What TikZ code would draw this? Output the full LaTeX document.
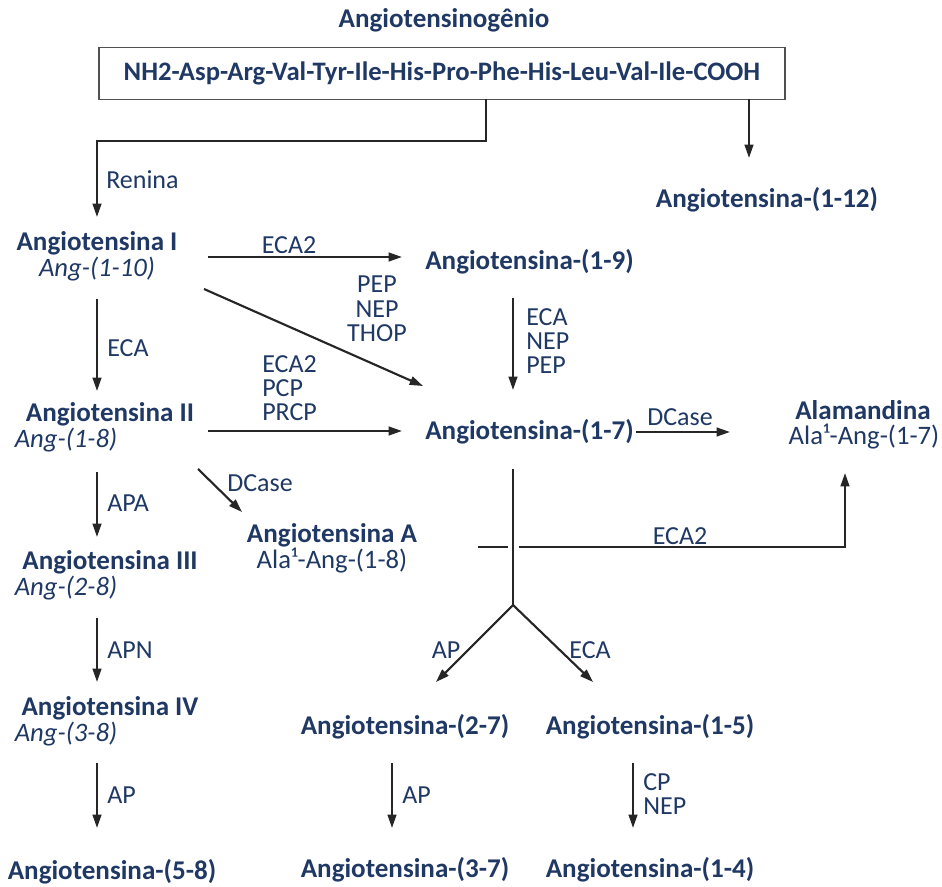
\documentclass[tikz,border=0pt]{standalone}
\usepackage{fontspec}
\setmainfont{Carlito}
\usetikzlibrary{arrows.meta}
\definecolor{navy}{RGB}{31,56,100}
\definecolor{arrowc}{RGB}{38,38,38}
\definecolor{boxc}{RGB}{80,80,80}
\tikzset{
  ntitle/.style={font=\bfseries\fontsize{20.3}{21}\selectfont, text=navy, inner sep=0pt},
  nsub/.style={font=\itshape\fontsize{20}{21}\selectfont, text=navy, inner sep=0pt},
  nplain/.style={font=\fontsize{20}{21}\selectfont, text=navy, inner sep=0pt},
  nlab/.style={font=\fontsize{19.5}{18.2}\selectfont, text=navy, inner sep=0pt},
  ln/.style={draw=arrowc, line width=1.6pt},
  arr/.style={draw=arrowc, line width=1.6pt, -{Triangle[length=10pt,width=6.5pt]}},
}
\begin{document}
\begin{tikzpicture}[x=0.75pt,y=-0.75pt]
\useasboundingbox (0,0) rectangle (942,887);

% title and box
\node[ntitle] (title) at (444,20) {Angiotensinogênio};
\node[draw=boxc, line width=0.8pt, minimum width=686*0.75pt, minimum height=52*0.75pt, inner sep=0pt,
      font=\bfseries\fontsize{20}{21}\selectfont, text=navy] (box) at (442,73.5)
      {NH2-Asp-Arg-Val-Tyr-Ile-His-Pro-Phe-His-Leu-Val-Ile-COOH};

% left column
\node[ntitle] (ang1) at (97,243.5) {Angiotensina I};
\node[nsub] (ang1s) at (97,269.5) {Ang-(1-10)};
\node[ntitle] (ang2) at (110,414) {Angiotensina II};
\node[nsub] (ang2s) at (66,440) {Ang-(1-8)};
\node[ntitle] (ang3) at (110,562) {Angiotensina III};
\node[nsub] (ang3s) at (66,588) {Ang-(2-8)};
\node[ntitle] (ang4) at (110,708) {Angiotensina IV};
\node[nsub] (ang4s) at (66,734) {Ang-(3-8)};
\node[ntitle] (ang58) at (112,872) {Angiotensina-(5-8)};

% middle / right
\node[ntitle] (ang112) at (767,200) {Angiotensina-(1-12)};
\node[ntitle] (ang19) at (529.5,262) {Angiotensina-(1-9)};
\node[ntitle] (ang17) at (529.5,432) {Angiotensina-(1-7)};
\node[ntitle] (alam) at (863,410) {Alamandina};
\node[nplain] (alams) at (864,437) {Ala¹-Ang-(1-7)};
\node[ntitle] (angA) at (332,535) {Angiotensina A};
\node[nplain] (angAs) at (332,561) {Ala¹-Ang-(1-8)};
\node[ntitle] (ang27) at (405,727) {Angiotensina-(2-7)};
\node[ntitle] (ang15) at (650,727) {Angiotensina-(1-5)};
\node[ntitle] (ang37) at (405,870) {Angiotensina-(3-7)};
\node[ntitle] (ang14) at (650,870) {Angiotensina-(1-4)};

% coordinates for connectors
\coordinate (b1) at (486,99);
\coordinate (b1a) at (486,141);
\coordinate (b1b) at (97,141);
\coordinate (b1e) at (97,217);
\coordinate (b2) at (749,99);
\coordinate (b2e) at (749,158);

\coordinate (e1s) at (208,257);
\coordinate (e1e) at (402,257);
\coordinate (d1s) at (204,289);
\coordinate (d1e) at (423,386);
\coordinate (v1s) at (97,299);
\coordinate (v1e) at (97,391);
\coordinate (v2s) at (513,298);
\coordinate (v2e) at (513,390);
\coordinate (h2s) at (208,431);
\coordinate (h2e) at (402,431);
\coordinate (dcs) at (636,432);
\coordinate (dce) at (730,432);
\coordinate (v3s) at (513,469);
\coordinate (br) at (513,605);
\coordinate (br1) at (436,682);
\coordinate (br2) at (593,682);
\coordinate (xa) at (478,547);
\coordinate (xb) at (508,547);
\coordinate (xc) at (519,547);
\coordinate (xd) at (845,547);
\coordinate (xe) at (845,473);
\coordinate (v4s) at (392,763);
\coordinate (v4e) at (392,828);
\coordinate (v5s) at (633,763);
\coordinate (v5e) at (633,828);
\coordinate (dAs) at (198,469);
\coordinate (dAe) at (242,512);
\coordinate (v6s) at (97,472);
\coordinate (v6e) at (97,537);
\coordinate (v7s) at (97,618);
\coordinate (v7e) at (97,682);
\coordinate (v8s) at (97,763);
\coordinate (v8e) at (97,828);

% connectors
\draw[arr] (b1) -- (b1a) -- (b1b) -- (b1e);
\draw[arr] (b2) -- (b2e);
\draw[arr] (e1s) -- (e1e);
\draw[arr] (d1s) -- (d1e);
\draw[arr] (v1s) -- (v1e);
\draw[arr] (v2s) -- (v2e);
\draw[arr] (h2s) -- (h2e);
\draw[arr] (dcs) -- (dce);
\draw[ln] (v3s) -- (br);
\draw[arr] (br) -- (br1);
\draw[arr] (br) -- (br2);
\draw[ln] (xa) -- (xb);
\draw[arr] (xc) -- (xd) -- (xe);
\draw[arr] (v4s) -- (v4e);
\draw[arr] (v5s) -- (v5e);
\draw[arr] (dAs) -- (dAe);
\draw[arr] (v6s) -- (v6e);
\draw[arr] (v7s) -- (v7e);
\draw[arr] (v8s) -- (v8e);

% enzyme labels
\node[nlab, anchor=west] (lren) at (106,180) {Renina};
\node[nlab] (leca2a) at (289,245) {ECA2};
\node[nlab, align=center] (lpep) at (377,309) {PEP\\NEP\\THOP};
\node[nlab, anchor=west] (leca1) at (107,348) {ECA};
\node[nlab, align=left, anchor=west] (leca19) at (526,341) {ECA\\NEP\\PEP};
\node[nlab, align=left, anchor=west] (lpcp) at (262,388) {ECA2\\PCP\\PRCP};
\node[nlab] (ldc1) at (680,417) {DCase};
\node[nlab] (leca2b) at (680,536) {ECA2};
\node[nlab] (lap1) at (446,650) {AP};
\node[nlab] (leca2) at (590,650) {ECA};
\node[nlab, anchor=west] (lap2) at (402,795) {AP};
\node[nlab, align=left, anchor=west] (lcp) at (643,794) {CP\\NEP};
\node[nlab] (ldc2) at (260,483) {DCase};
\node[nlab, anchor=west] (lapa) at (107,503) {APA};
\node[nlab, anchor=west] (lapn) at (107,650) {APN};
\node[nlab, anchor=west] (lap3) at (107,795) {AP};
\end{tikzpicture}
\end{document}
